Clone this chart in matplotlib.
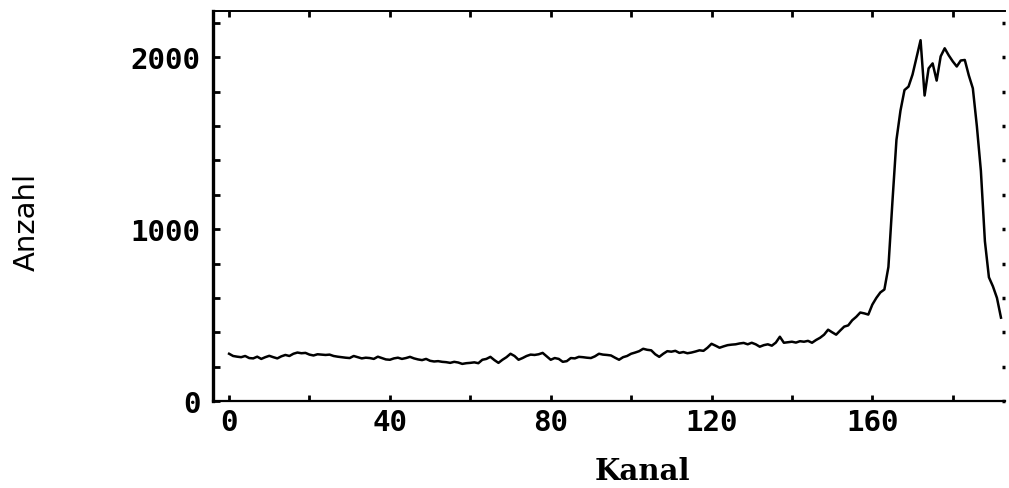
import numpy as np
from matplotlib import pyplot as plt
from matplotlib.ticker import MultipleLocator

# counts per channel (Kanal 0..192)
counts = [
    275, 262, 258, 255, 262, 250, 248, 258, 245, 255,
    263, 255, 248, 260, 268, 262, 275, 282, 278, 280,
    270, 265, 272, 270, 268, 270, 262, 258, 255, 252,
    250, 262, 255, 248, 252, 250, 245, 258, 250, 242,
    240, 248, 252, 245, 250, 257, 248, 242, 238, 245,
    234, 230, 232, 228, 226, 222, 228, 224, 216, 220,
    222, 225, 220, 240, 245, 257, 238, 222, 240, 255,
    275, 262, 240, 250, 262, 270, 268, 272, 280, 260,
    240, 250, 245, 228, 232, 250, 248, 257, 255, 252,
    250, 260, 275, 270, 268, 265, 252, 240, 255, 262,
    275, 282, 290, 304, 298, 295, 272, 257, 275, 290,
    287, 292, 280, 285, 278, 282, 288, 295, 292, 310,
    333, 322, 310, 318, 325, 328, 330, 335, 338, 330,
    339, 330, 316, 325, 330, 322, 340, 374, 339, 342,
    345, 340, 348, 345, 350, 339, 355, 368, 386, 415,
    400, 386, 410, 433, 440, 470, 490, 515, 510, 503,
    561, 600, 632, 649, 780, 1160, 1520, 1690, 1810, 1830,
    1900, 2000, 2100, 1778, 1936, 1965, 1865, 2006, 2053, 2012,
    1977, 1947, 1982, 1985, 1895, 1820, 1600, 1340, 930, 720,
    667, 600, 485,
]
channels = np.arange(len(counts))

x_ticks = [0, 40, 80, 120, 160]
y_ticks = [0, 1000, 2000]

tick_font = dict(family='DejaVu Sans Mono', weight='bold', size=21)

fig = plt.figure(figsize=(10.09, 4.89), dpi=100)
ax = fig.add_axes([213 / 1009, 1 - 402 / 489, 792 / 1009, 390 / 489])

ax.plot(channels, counts, color='black', linewidth=1.8)

ax.set_xlim(-4, 193)
ax.set_ylim(0, 2270)

ax.set_xticks(x_ticks)
ax.set_yticks(y_ticks)
ax.xaxis.set_minor_locator(MultipleLocator(20))
ax.yaxis.set_minor_locator(MultipleLocator(200))
ax.set_xticklabels([str(v) for v in x_ticks], fontdict=tick_font)
ax.set_yticklabels([str(v) for v in y_ticks], fontdict=tick_font)

ax.tick_params(which='both', direction='in', top=True, right=False,
               color='black', width=2, length=5)
ax.tick_params(axis='x', which='both', length=4)
ax.tick_params(axis='x', which='major', pad=5)
ax.tick_params(axis='y', which='major', pad=9)

# right side only has small dot-like ticks, no axis line
right = ax.secondary_yaxis('right')
right.set_yticks(np.arange(0, 2201, 200))
right.tick_params(direction='in', length=2.5, width=2.5, labelright=False)
right.spines['right'].set_visible(False)

ax.spines['left'].set_linewidth(2.4)
ax.spines['bottom'].set_linewidth(1.6)
ax.spines['top'].set_linewidth(1.4)
ax.spines['right'].set_visible(False)

fig.text(642 / 1009, 1 - 472 / 489, 'Kanal', family='DejaVu Serif',
         weight='bold', size=21, ha='center', va='center')
fig.text(27 / 1009, 1 - 222 / 489, 'Anzahl', family='DejaVu Sans',
         size=21, rotation=90, ha='center', va='center')

plt.savefig('out.png', dpi=100)
